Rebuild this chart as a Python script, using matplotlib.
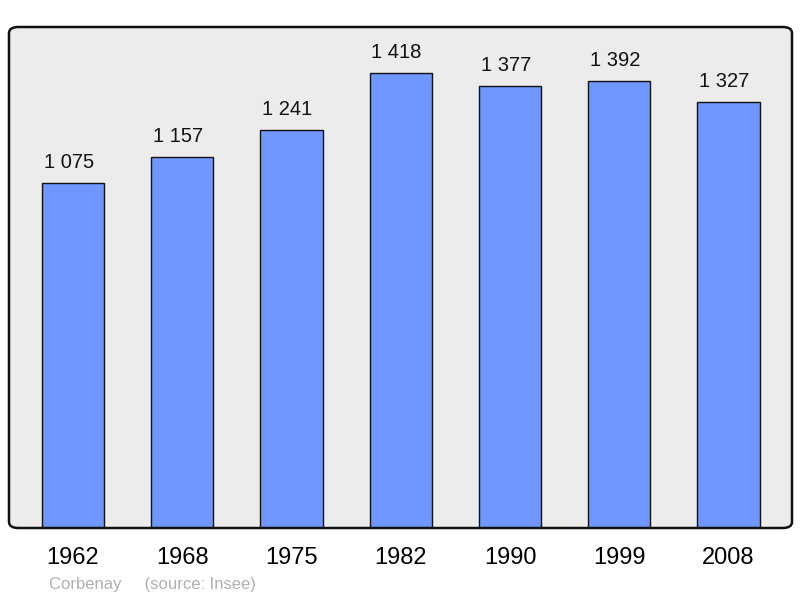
import matplotlib.pyplot as plt
from matplotlib.patches import FancyBboxPatch

years = ['1962', '1968', '1975', '1982', '1990', '1999', '2008']
population = [1075, 1157, 1241, 1418, 1377, 1392, 1327]
labels = ['1 075', '1 157', '1 241', '1 418', '1 377', '1 392', '1 327']

plt.rcParams['font.family'] = ['Liberation Sans', 'DejaVu Sans']

fig = plt.figure(figsize=(8, 5.98), dpi=100)
ax = fig.add_axes([9 / 800, 1 - 528 / 598, 783 / 800, 501 / 598])
ax.set_facecolor('none')

# rounded frame: grey fill behind bars, dark outline on top
box = dict(boxstyle='round,pad=0,rounding_size=0.012', transform=ax.transAxes, clip_on=False)
ax.add_patch(FancyBboxPatch((0, 0), 1, 1, facecolor='#ececec', edgecolor='none', zorder=0, **box))
ax.add_patch(FancyBboxPatch((0, 0), 1, 1, facecolor='none', edgecolor='#111111',
                            linewidth=1.8, zorder=3, **box))

x = range(len(years))
ax.bar(x, population, width=0.57, color='#7097ff', edgecolor='#111111', linewidth=1.0, zorder=2)
for i, v in enumerate(population):
    ax.annotate(labels[i], (i, v), xytext=(-3, 8), textcoords='offset points',
                ha='center', va='bottom', fontsize=14.5, color='#111111')

ax.set_xlim(-0.585, 6.58)
ax.set_ylim(0, 1561)
ax.set_xticks(list(x))
ax.set_xticklabels(years, fontsize=17)
ax.set_yticks([])
ax.tick_params(axis='x', length=0, pad=13.5)
for s in ax.spines.values():
    s.set_visible(False)

fig.text(49 / 800, 1 - 584.5 / 598, 'Corbenay     (source: Insee)', fontsize=12,
         color='#b0b0b0', va='center', ha='left')

fig.savefig('out.png', dpi=100)
